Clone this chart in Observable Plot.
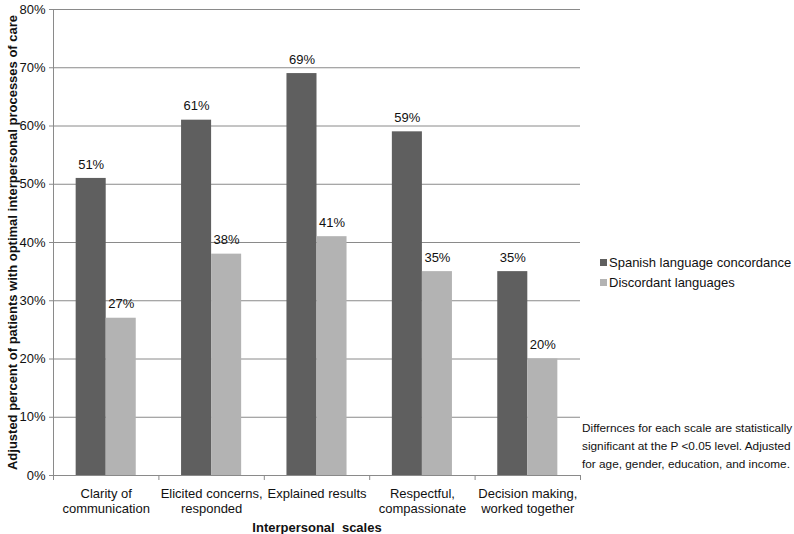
<!DOCTYPE html>
<html>
<head>
<meta charset="utf-8">
<script src="https://cdn.jsdelivr.net/npm/d3@7"></script>
<script src="https://cdn.jsdelivr.net/npm/@observablehq/plot@0.6"></script>
<style>
  html, body { margin: 0; padding: 0; background: #fff; }
  #wrap { position: relative; width: 794px; height: 534px; font-family: "Liberation Sans", Arial, sans-serif; color: #111; }
  #legend { position: absolute; left: 600px; top: 252px; font-size: 13px; }
  #legend .row { display: flex; align-items: center; height: 20px; }
  #legend .sw { width: 7px; height: 7px; margin-right: 2px; }
  #note { position: absolute; left: 582px; top: 419px; font-size: 11.8px; line-height: 18px; white-space: nowrap; }
</style>
</head>
<body>
<div id="wrap">
  <div id="chart"></div>
  <div id="legend"></div>
  <div id="note"></div>
</div>
<script>
const categories = ["Clarity of\ncommunication", "Elicited concerns,\nresponded", "Explained results", "Respectful,\ncompassionate", "Decision making,\nworked together"];
const seriesNames = ["Spanish language concordance", "Discordant languages"];
const spanish = [51, 61, 69, 59, 35];
const discordant = [27, 38, 41, 35, 20];
const yTicks = [0, 10, 20, 30, 40, 50, 60, 70, 80];
const colors = ["#5f5f5f", "#b3b3b3"];
const noteLines = ["Differnces for each scale are statistically", "significant at the P <0.05 level. Adjusted", "for age, gender, education, and income."];

const rows = [];
categories.forEach((c, i) => {
  rows.push({cat: c, i, s: 0, series: seriesNames[0], value: spanish[i]});
  rows.push({cat: c, i, s: 1, series: seriesNames[1], value: discordant[i]});
});

const bw = 0.285; // bar width as a fraction of a category band
const font = "'Liberation Sans', Arial, sans-serif";

const chart = Plot.plot({
  width: 794,
  height: 534,
  marginLeft: 53,
  marginRight: 214,
  marginTop: 9,
  marginBottom: 59,
  style: {fontFamily: font, fontSize: "13px", color: "#111", background: "#fff"},
  x: {domain: [0, categories.length]},
  y: {domain: [0, 80]},
  color: {domain: seriesNames, range: colors},
  marks: [
    Plot.ruleY(yTicks, {stroke: "#8a8a8a", strokeWidth: 1}),
    Plot.ruleX([0], {stroke: "#8a8a8a"}),
    Plot.axisY({ticks: yTicks, tickFormat: d => d + "%", tickSize: 4, tickPadding: 4, stroke: "#8a8a8a", fontSize: 13,
      label: "Adjusted percent of patients with optimal interpersonal processes of care", labelAnchor: "center", labelArrow: "none", labelOffset: 46}),
    Plot.axisX({ticks: d3.range(categories.length + 1), tickFormat: () => "", tickSize: 5, stroke: "#8a8a8a",
      label: "Interpersonal\u00a0\u00a0scales", labelAnchor: "center", labelArrow: "none", labelOffset: 56}),
    Plot.rectY(rows, {
      x1: d => d.i + 0.5 + (d.s - 1) * bw,
      x2: d => d.i + 0.5 + d.s * bw,
      y1: 0, y2: "value", fill: "series"
    }),
    Plot.text(rows, {
      x: d => d.i + 0.5 + (d.s - 0.5) * bw,
      y: "value", text: d => d.value + "%", dy: -14, fontSize: 13, fill: "#111"
    }),
    Plot.text(categories, {
      x: (d, i) => i + 0.5, y: () => 0, text: d => d, lineAnchor: "top", dy: 12, fontSize: 13, lineHeight: 1.15, fill: "#111"
    })
  ]
});

chart.querySelectorAll("g[aria-label='y-axis label'], g[aria-label='x-axis label']").forEach(g => {
  g.setAttribute("font-weight", "bold");
  g.setAttribute("font-size", "13");
});
document.getElementById("chart").appendChild(chart);

const legend = document.getElementById("legend");
seriesNames.forEach((n, i) => {
  const row = document.createElement("div");
  row.className = "row";
  const sw = document.createElement("span");
  sw.className = "sw";
  sw.style.background = colors[i];
  const tx = document.createElement("span");
  tx.textContent = n;
  row.appendChild(sw); row.appendChild(tx);
  legend.appendChild(row);
});
const note = document.getElementById("note");
noteLines.forEach(l => {
  const d = document.createElement("div");
  d.textContent = l;
  note.appendChild(d);
});
</script>
</body>
</html>
